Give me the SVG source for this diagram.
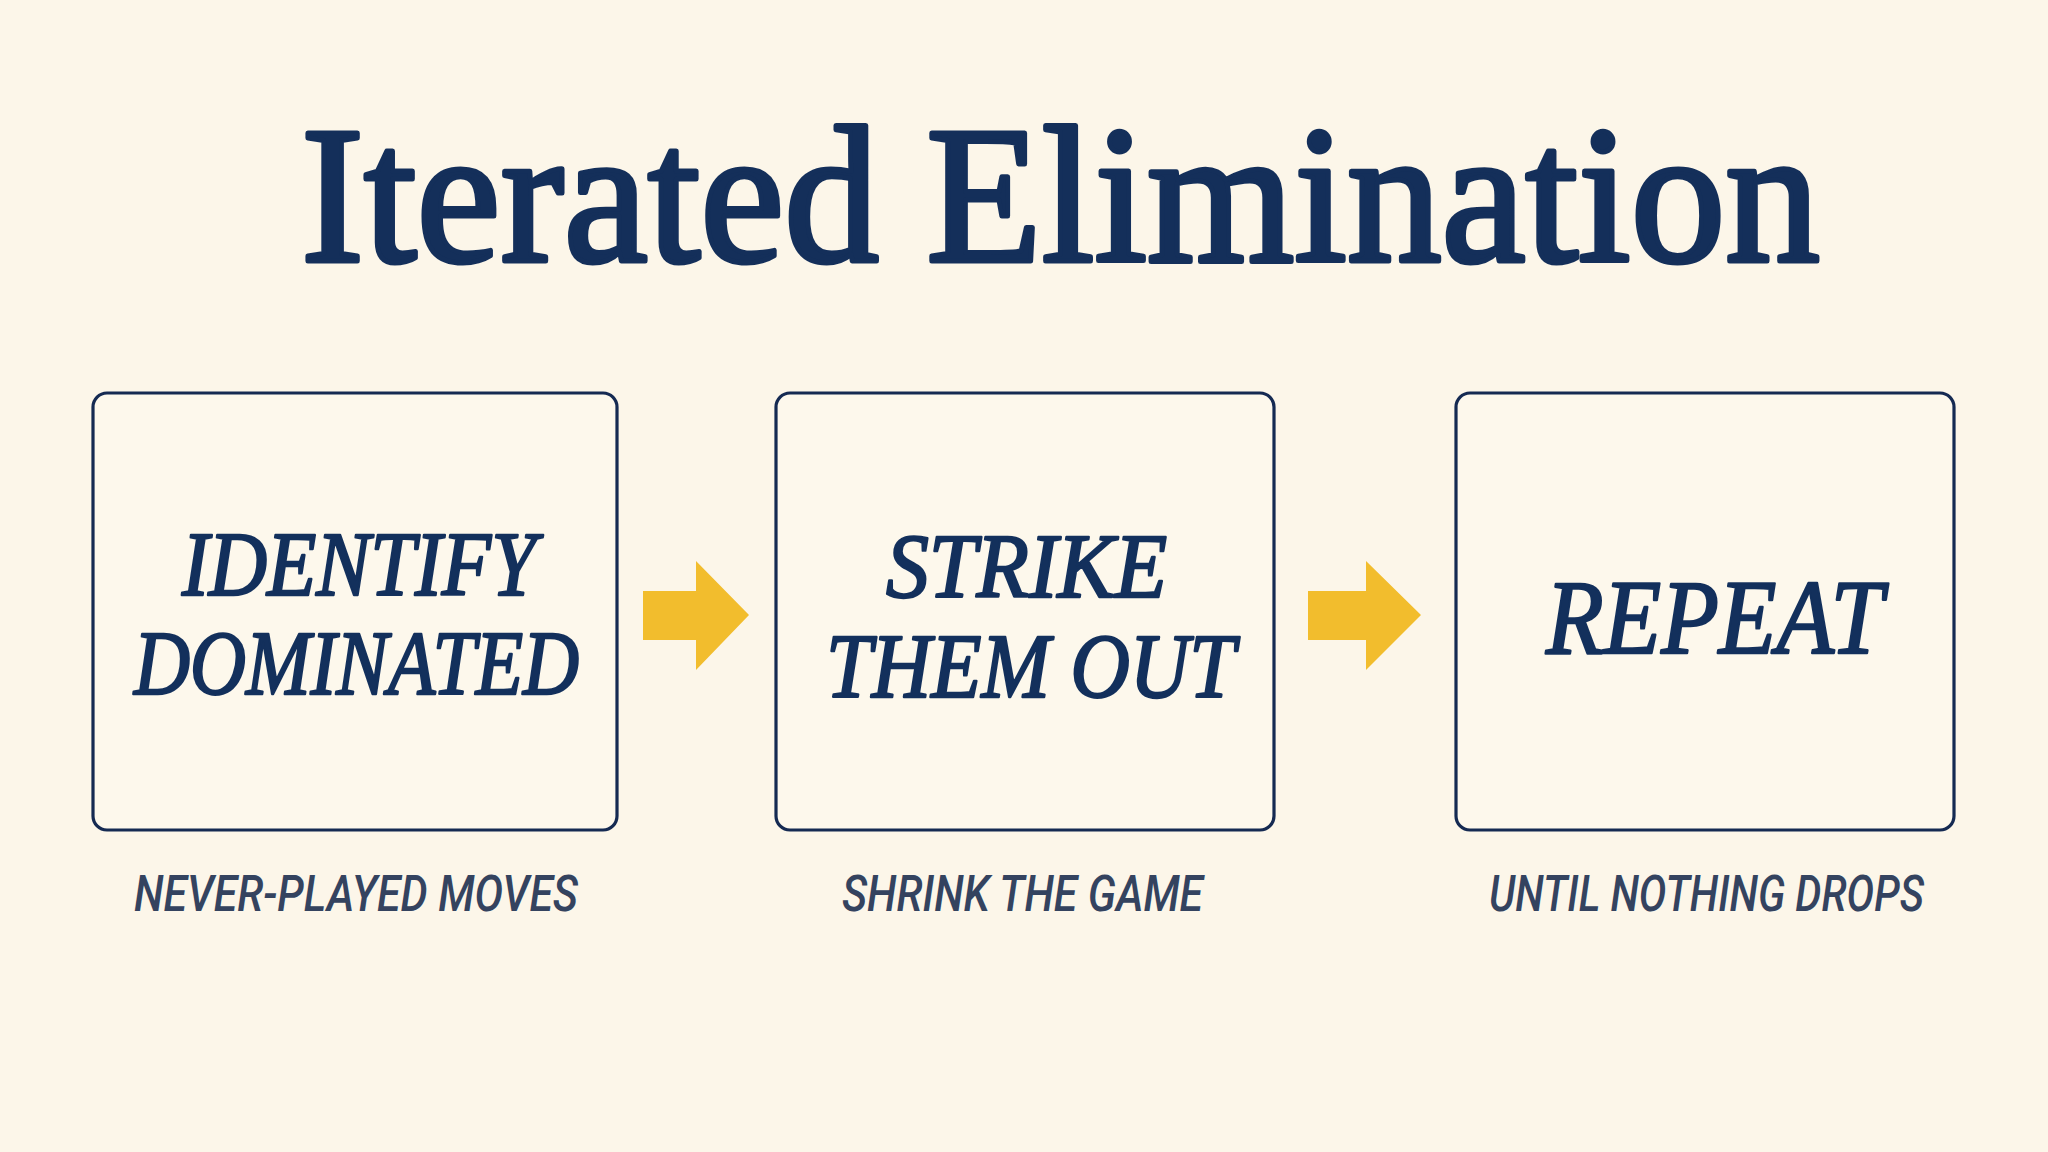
<svg xmlns="http://www.w3.org/2000/svg" width="2048" height="1152" viewBox="0 0 2048 1152">
  <defs>
    <style>
      .bg { fill: #fcf6e9; }
      .box { fill: #fdf8ec; stroke: #152a52; stroke-width: 3.2; }
      .title { font-family: "Liberation Serif", "Times New Roman", serif; font-weight: normal; font-size: 195px; fill: #142f5a; stroke: #142f5a; stroke-width: 5; stroke-linejoin: round; }
      .step { font-family: "Liberation Serif", "Times New Roman", serif; font-style: italic; font-weight: normal; font-size: 92px; fill: #13305c; stroke: #13305c; stroke-width: 2.4; stroke-linejoin: round; }
      .big { font-size: 106px; }
      .sub { font-family: Roboto, "Liberation Sans", sans-serif; font-style: italic; font-weight: 500; font-size: 49px; fill: #34435f; }
      .arrow { fill: #f2bd2d; }
    </style>
  </defs>
  <rect class="bg" x="0" y="0" width="2048" height="1152"/>

  <g id="title">
    <text class="title" x="301" y="261" textLength="1519" lengthAdjust="spacingAndGlyphs">Iterated Elimination</text>
  </g>

  <g id="node-identify">
    <rect class="box" x="93" y="393" width="524" height="437" rx="14"/>
    <text class="step" x="182" y="595" textLength="354" lengthAdjust="spacingAndGlyphs">IDENTIFY</text>
    <text class="step" x="134" y="694" textLength="445" lengthAdjust="spacingAndGlyphs">DOMINATED</text>
    <text class="sub" x="134" y="911" textLength="444" lengthAdjust="spacingAndGlyphs">NEVER-PLAYED MOVES</text>
  </g>

  <g id="node-strike">
    <rect class="box" x="776" y="393" width="498" height="437" rx="14"/>
    <text class="step" x="886" y="597" textLength="281" lengthAdjust="spacingAndGlyphs">STRIKE</text>
    <text class="step" x="826" y="697" textLength="409" lengthAdjust="spacingAndGlyphs">THEM OUT</text>
    <text class="sub" x="842" y="911" textLength="361" lengthAdjust="spacingAndGlyphs">SHRINK THE GAME</text>
  </g>

  <g id="node-repeat">
    <rect class="box" x="1456" y="393" width="498" height="437" rx="14"/>
    <text class="step big" x="1546" y="653" textLength="337" lengthAdjust="spacingAndGlyphs">REPEAT</text>
    <text class="sub" x="1489" y="911" textLength="435" lengthAdjust="spacingAndGlyphs">UNTIL NOTHING DROPS</text>
  </g>

  <g id="connectors">
    <polygon class="arrow" points="643,591 696,591 696,561 749,615 696,670 696,640 643,640"/>
    <polygon class="arrow" points="1308,591 1366,591 1366,561 1421,615 1366,670 1366,640 1308,640"/>
  </g>
</svg>
